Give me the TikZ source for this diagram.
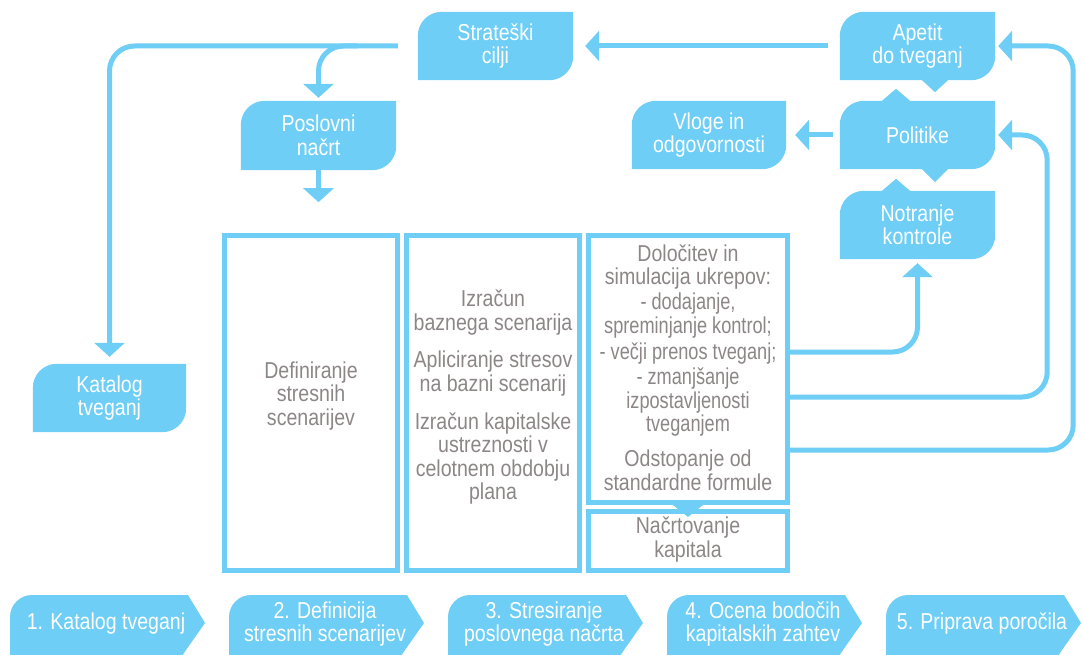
\documentclass[tikz,border=0pt]{standalone}
\usepackage{fontspec}
\setmainfont{Liberation Sans}[FakeStretch=0.85]
\newfontfamily\narrowfont{Liberation Sans}[FakeStretch=0.79]
\usetikzlibrary{arrows.meta,backgrounds,calc}
\definecolor{cy}{RGB}{110,206,246}
\definecolor{gr}{RGB}{140,134,134}
\tikzset{
 cbox/.style={minimum width=155pt, minimum height=68pt, inner sep=0pt, text=white, align=center, font=\fontsize{23}{23.5}\selectfont},
 boxframe/.style={draw=cy, line width=5pt, inner sep=0pt},
 gtext/.style={text=gr, align=center, inner sep=0pt, font=\fontsize{23}{23.5}\selectfont},
 ntext/.style={text=gr, align=center, inner sep=0pt, font=\narrowfont\fontsize{23}{23.5}\selectfont},
 conn/.style={draw=cy, line width=5pt, -{Triangle[width=30pt,length=14pt]}},
 chev/.style={text=white, align=center, inner sep=0pt, font=\fontsize{23}{23.5}\selectfont},
}
\newcommand\blobfill[1]{\fill[cy] (#1.south west) -- ([yshift=-24pt]#1.north west) arc[start angle=180,end angle=90,radius=24pt] -- (#1.north east) -- ([yshift=24pt]#1.south east) arc[start angle=0,end angle=-90,radius=24pt] -- cycle;}
\newcommand\chevfill[1]{\fill[cy] (#1,-5) -- (#1,37) arc[start angle=180,end angle=90,radius=22pt] -- ($(#1,59)+(178,0)$) -- ($(#1,31)+(195,0)$) -- ($(#1,4)+(176,0)$) -- ($(#1,-5)+(170,0)$) -- cycle;}
\begin{document}
\begin{tikzpicture}[x=1pt,y=1pt]
\clip (0,0) rectangle (1083,654);
\useasboundingbox (0,0) rectangle (1083,654);
% blobs
\node[cbox] (strat) at (495.5,608) {Strateški\\cilji};
\node[cbox] (apetit) at (917.5,608) {Apetit\\do tveganj};
\node[cbox] (politike) at (917.5,519) {Politike};
\node[cbox] (notr) at (917.5,429) {Notranje\\kontrole};
\node[cbox, minimum width=154pt] (vloge) at (709,519) {Vloge in\\odgovornosti};
\node[cbox, minimum height=69pt] (poslovni) at (318.5,518.5) {Poslovni\\načrt};
\node[cbox, minimum width=153pt] (katalog) at (109.5,256) {Katalog\\tveganj};
% frames
\node[boxframe, minimum width=173pt, minimum height=335pt] (b1) at (311,251) {};
\node[boxframe, minimum width=173pt, minimum height=335pt] (b2) at (493,251) {};
\node[boxframe, minimum width=199pt, minimum height=267pt] (b3) at (688,285) {};
\node[boxframe, minimum width=199pt, minimum height=59pt] (b4) at (688,113) {};
\fill[cy] ([xshift=-15pt]b3.south) -- ([xshift=15pt]b3.south) -- ([yshift=-12pt]b3.south) -- cycle;
% texts
\node[gtext] (t1) at (311,258) {Definiranje\\stresnih\\scenarijev};
\node[gtext] (t2a) at (493,341.5) {Izračun\\baznega scenarija};
\node[gtext] (t2b) at (493,280.5) {Apliciranje stresov\\na bazni scenarij};
\node[gtext] (t2c) at (493,195.5) {Izračun kapitalske\\ustreznosti v\\celotnem obdobju\\plana};
\node[gtext] (t3a) at (688,387) {Določitev in\\simulacija ukrepov:};
\node[ntext] (t3b) at (688,338.5) {- dodajanje,\\spreminjanje kontrol;};
\node[ntext] (t3c) at (688,300) {- večji prenos tveganj;};
\node[ntext] (t3d) at (688,251.5) {- zmanjšanje\\izpostavljenosti\\tveganjem};
\node[gtext] (t3e) at (688,183.5) {Odstopanje od\\standardne formule};
\node[gtext] (t4) at (688,114.5) {Načrtovanje\\kapitala};
% chevrons
\node[chev] (s1) at (106,30) {1. Katalog tveganj};
\node[chev] (s2) at (325,30) {2. Definicija\\stresnih scenarijev};
\node[chev] (s3) at (544,30) {3. Stresiranje\\poslovnega načrta};
\node[chev] (s4) at (763,30) {4. Ocena bodočih\\kapitalskih zahtev};
\node[chev] (s5) at (982,30) {5. Priprava poročila};
\begin{scope}[on background layer]
\blobfill{strat}
\blobfill{apetit}
\blobfill{politike}
\blobfill{notr}
\blobfill{vloge}
\blobfill{poslovni}
\blobfill{katalog}
\fill[cy] ([xshift=4.5pt]apetit.south) -- ([xshift=30.5pt]apetit.south) -- ([xshift=17.5pt,yshift=-12pt]apetit.south) -- cycle;
\fill[cy] ([xshift=-35.5pt]politike.north) -- ([xshift=-7.5pt]politike.north) -- ([xshift=-21.5pt,yshift=12pt]politike.north) -- cycle;
\fill[cy] ([xshift=4.5pt]politike.south) -- ([xshift=30.5pt]politike.south) -- ([xshift=17.5pt,yshift=-13pt]politike.south) -- cycle;
\fill[cy] ([xshift=-35.5pt]notr.north) -- ([xshift=-7.5pt]notr.north) -- ([xshift=-21.5pt,yshift=12pt]notr.north) -- cycle;
\chevfill{10}
\chevfill{229}
\chevfill{448}
\chevfill{667}
\chevfill{886}
\end{scope}
% connectors
\draw[conn] ([xshift=-12pt]apetit.west) -- ([xshift=12pt]strat.east);
\draw[conn, rounded corners=25pt] ([xshift=-20pt]strat.west) -| ([yshift=7pt]katalog.north);
\coordinate (br) at ([xshift=-60pt]strat.west);
\draw[conn, rounded corners=25pt] (br) -| ([yshift=3pt]poslovni.north);
\draw[conn] (poslovni.south) -- ([yshift=-32pt]poslovni.south);
\draw[conn] ([xshift=-7pt]politike.west) -- ([xshift=9pt]vloge.east);
\draw[conn, rounded corners=25pt] ([yshift=17pt]b3.east) -| ([yshift=-4pt]notr.south);
\coordinate (c2) at ([xshift=52pt]politike.east);
\draw[conn, rounded corners=25pt] ([yshift=-28pt]b3.east) -| (c2) -- ([xshift=3pt]politike.east);
\coordinate (c3) at ([xshift=78pt]apetit.east);
\draw[conn, rounded corners=25pt] ([yshift=-81pt]b3.east) -| (c3) -- ([xshift=3pt]apetit.east);
\end{tikzpicture}
\end{document}
